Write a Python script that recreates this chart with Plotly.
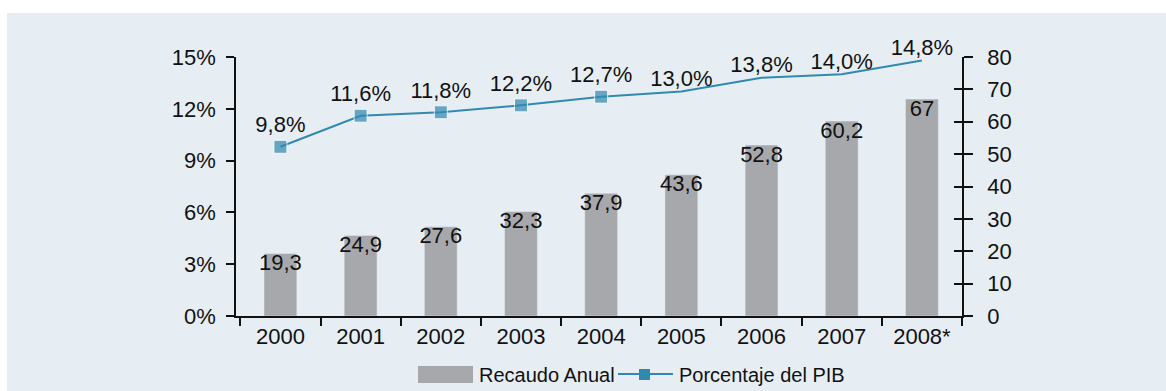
import plotly.graph_objects as go

# Tax revenue by year (billions) and its share of GDP (%)
years = ["2000", "2001", "2002", "2003", "2004", "2005", "2006", "2007", "2008*"]
recaudo = [19.3, 24.9, 27.6, 32.3, 37.9, 43.6, 52.8, 60.2, 67]
pib_pct = [9.8, 11.6, 11.8, 12.2, 12.7, 13.0, 13.8, 14.0, 14.8]
marker_sizes = [13, 13, 13, 13, 13, 0, 0, 0, 0]

pct_ticks = [0, 3, 6, 9, 12, 15]
abs_ticks = [0, 10, 20, 30, 40, 50, 60, 70, 80]

recaudo_labels = [f"{v:g}".replace(".", ",") for v in recaudo]
pib_labels = [f"{v:.1f}".replace(".", ",") + "%" for v in pib_pct]

FONT = "Liberation Sans, Arial, Helvetica, sans-serif"
FS = 22
INK = "#111111"
BG = "#e6eef4"
BAR = "#a7a8ab"
LINE = "#3189b0"

W, H = 1166, 391
L, R, T, B = 236, 204, 57, 75
PW, PH = W - L - R, H - T - B


def px(x):
    return (x - L) / PW


def py(y):
    return (H - B - y) / PH


fig = go.Figure()

fig.add_trace(go.Bar(
    x=years, y=recaudo, yaxis="y2", marker_color=BAR,
    name="Recaudo Anual", showlegend=False,
))
fig.add_trace(go.Scatter(
    x=years, y=recaudo, yaxis="y2", mode="text", text=recaudo_labels,
    textposition="bottom center", textfont=dict(size=FS, color=INK),
    showlegend=False, hoverinfo="skip", cliponaxis=False,
))
fig.add_trace(go.Scatter(
    x=years, y=pib_pct, yaxis="y", mode="lines+markers+text",
    text=pib_labels, textposition="top center",
    textfont=dict(size=FS, color=INK),
    line=dict(color=LINE, width=2),
    marker=dict(symbol="square", size=marker_sizes, color=LINE),
    name="Porcentaje del PIB", showlegend=False, cliponaxis=False,
))

# Background panel
shapes = [dict(
    type="rect", xref="paper", yref="paper",
    x0=px(7), x1=px(W), y0=py(H), y1=py(13),
    fillcolor=BG, line=dict(width=0), layer="below",
)]

# Legend drawn by hand
shapes.append(dict(type="rect", xref="paper", yref="paper",
                   x0=px(418), x1=px(473), y0=py(383), y1=py(366),
                   fillcolor=BAR, line=dict(width=0)))
shapes.append(dict(type="line", xref="paper", yref="paper",
                   x0=px(618), x1=px(673), y0=py(374), y1=py(374),
                   line=dict(color=LINE, width=2)))
shapes.append(dict(type="rect", xref="paper", yref="paper",
                   x0=px(639), x1=px(650), y0=py(380), y1=py(369),
                   fillcolor=LINE, line=dict(width=0)))

annotations = [
    dict(text="Recaudo Anual", xref="paper", yref="paper", x=px(477), y=py(375),
         xanchor="left", yanchor="middle", showarrow=False,
         font=dict(size=20, color=INK, family=FONT)),
    dict(text="Porcentaje del PIB", xref="paper", yref="paper", x=px(677), y=py(375),
         xanchor="left", yanchor="middle", showarrow=False,
         font=dict(size=20, color=INK, family=FONT)),
]

fig.update_layout(
    width=W, height=H,
    margin=dict(l=L, r=R, t=T, b=B),
    paper_bgcolor="white",
    plot_bgcolor="rgba(0,0,0,0)",
    font=dict(family=FONT, size=FS, color=INK),
    bargap=0.59,
    shapes=shapes,
    annotations=annotations,
    xaxis=dict(
        type="category", showline=True, linecolor=INK, linewidth=1.5,
        ticks="outside", tickson="boundaries", ticklen=8, tickcolor=INK,
        tickwidth=1.5, showgrid=False, zeroline=False,
    ),
    yaxis=dict(
        range=[0, 15], tickvals=pct_ticks,
        ticktext=[f"{t}%" for t in pct_ticks],
        showline=True, linecolor=INK, linewidth=1.5,
        ticks="outside", ticklen=8, tickcolor=INK, tickwidth=1.5,
        showgrid=False, zeroline=False, ticklabelstandoff=6,
    ),
    yaxis2=dict(
        range=[0, 80], tickvals=abs_ticks, overlaying="y", side="right",
        anchor="x", showline=True, linecolor=INK, linewidth=1.5,
        ticks="outside", ticklen=9, tickcolor=INK, tickwidth=1.5,
        showgrid=False, zeroline=False, ticklabelstandoff=10,
    ),
    yaxis3=dict(
        range=[0, 80], tickvals=abs_ticks, overlaying="y", side="right",
        anchor="x", showline=False, showticklabels=False,
        ticks="inside", ticklen=8, tickcolor=INK, tickwidth=1.5,
        showgrid=False, zeroline=False,
    ),
)

# Invisible trace so the inner tick set on the right axis is rendered
fig.add_trace(go.Scatter(x=[years[0]], y=[0], yaxis="y3", mode="markers",
                         marker=dict(opacity=0), showlegend=False,
                         hoverinfo="skip"))

fig.write_html("out.html")
